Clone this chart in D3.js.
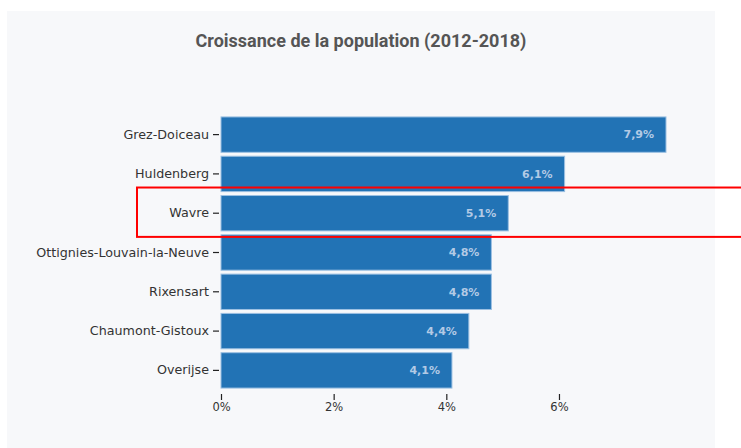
<!DOCTYPE html>
<html>
<head>
<meta charset="utf-8">
<script src="https://cdn.jsdelivr.net/npm/d3@7"></script>
<style>
  html, body { margin: 0; padding: 0; background: #ffffff; }
  svg { display: block; }
</style>
</head>
<body>
<svg id="chart" width="741" height="448"></svg>
<script>
// Communes and their population growth between 2012 and 2018 (%)
const communes = [
  "Grez-Doiceau",
  "Huldenberg",
  "Wavre",
  "Ottignies-Louvain-la-Neuve",
  "Rixensart",
  "Chaumont-Gistoux",
  "Overijse"
];
const croissance = [7.9, 6.1, 5.1, 4.8, 4.8, 4.4, 4.1];
const xTicks = [0, 2, 4, 6];
const highlighted = "Wavre";

const data = communes.map((c, i) => ({ commune: c, value: croissance[i] }));

const svg = d3.select("#chart");

// panel background
svg.append("rect")
  .attr("x", 7).attr("y", 11)
  .attr("width", 708).attr("height", 437)
  .attr("fill", "#f7f8fa");

// title
svg.append("text")
  .attr("x", 361).attr("y", 47)
  .attr("text-anchor", "middle")
  .attr("font-family", "Roboto, sans-serif")
  .attr("font-weight", "bold")
  .attr("font-size", 18)
  .attr("fill", "#555555")
  .text("Croissance de la population (2012-2018)");

const margin = { left: 221, top: 113, bottom: 392 };
const labelFont = "'DejaVu Sans', Verdana, sans-serif";

const x = d3.scaleLinear()
  .domain([0, d3.max(croissance)])
  .range([margin.left, 666]);

const y = d3.scaleBand()
  .domain(communes)
  .range([margin.top, margin.bottom])
  .padding(0.1);

// bars
svg.append("g")
  .selectAll("rect")
  .data(data)
  .join("rect")
  .attr("x", x(0))
  .attr("y", d => y(d.commune))
  .attr("width", d => x(d.value) - x(0))
  .attr("height", y.bandwidth())
  .attr("fill", "#2273b5")
  .attr("stroke", "#9cc0e2")
  .attr("stroke-width", 1);

// value labels inside the bars
svg.append("g")
  .selectAll("text")
  .data(data)
  .join("text")
  .attr("x", d => x(d.value) - 12)
  .attr("y", d => y(d.commune) + y.bandwidth() / 2)
  .attr("dy", "0.35em")
  .attr("text-anchor", "end")
  .attr("font-family", labelFont)
  .attr("font-weight", "bold")
  .attr("font-size", 11)
  .attr("fill", "#b3cae5")
  .text(d => d3.format(".1f")(d.value).replace(".", ",") + "%");

// y axis (ticks only, no domain line)
const yAxis = svg.append("g")
  .attr("transform", `translate(${margin.left - 2},0)`)
  .call(d3.axisLeft(y).tickSize(6).tickPadding(4));
yAxis.select(".domain").remove();
yAxis.selectAll("line").attr("stroke", "#222").attr("stroke-width", 1.2);
yAxis.selectAll("text")
  .attr("font-family", labelFont)
  .attr("font-size", 12.7)
  .attr("fill", "#333");

// x axis
const xAxis = svg.append("g")
  .attr("transform", `translate(0,${margin.bottom + 2})`)
  .call(d3.axisBottom(x).tickValues(xTicks).tickFormat(d => d + "%").tickSize(6).tickPadding(3));
xAxis.select(".domain").remove();
xAxis.selectAll("line").attr("stroke", "#222").attr("stroke-width", 1.2);
xAxis.selectAll("text")
  .attr("font-family", labelFont)
  .attr("font-size", 11.5)
  .attr("fill", "#333");

// highlight frame around the selected commune
svg.append("rect")
  .attr("x", 137)
  .attr("y", y(highlighted) - 8)
  .attr("width", 640)
  .attr("height", y.bandwidth() + 14)
  .attr("fill", "none")
  .attr("stroke", "#ff0000")
  .attr("stroke-width", 2);
</script>
</body>
</html>
